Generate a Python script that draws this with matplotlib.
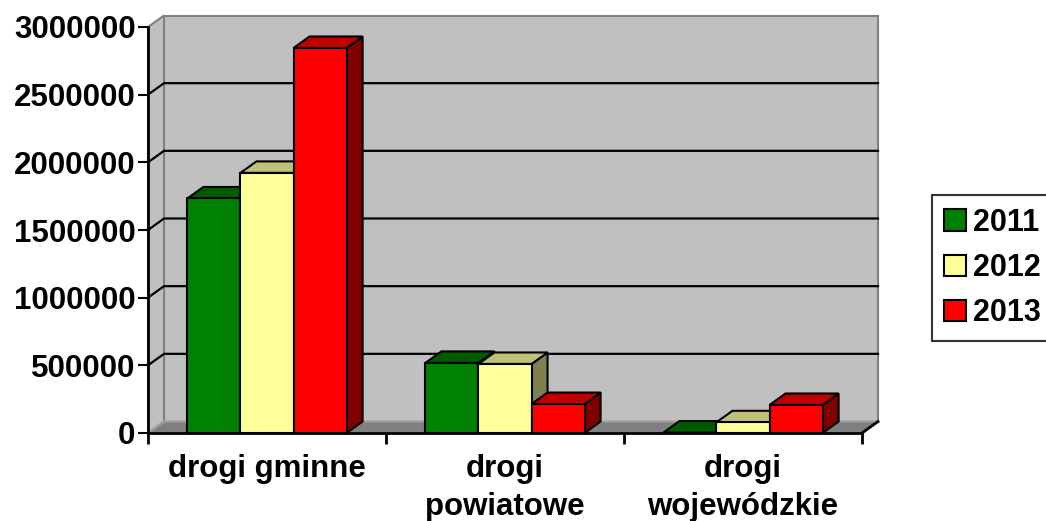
import numpy as np
import matplotlib
matplotlib.use('Agg')
import matplotlib.pyplot as plt
from matplotlib.patches import Polygon, Rectangle

plt.rcParams['font.family'] = ['Liberation Sans', 'DejaVu Sans']
plt.rcParams['font.weight'] = 'bold'

# dane
kategorie = ['drogi gminne', 'drogi\npowiatowe', 'drogi\nwojewódzkie']
lata = ['2011', '2012', '2013']
v2011 = [1733000, 518000, 3000]
v2012 = [1922000, 510000, 79000]
v2013 = [2845000, 214000, 207000]
yticks = [0, 500000, 1000000, 1500000, 2000000, 2500000, 3000000]

serie = [v2011, v2012, v2013]
kolory = [('#008000', '#005a00', '#004000'),
          ('#ffff99', '#c0c078', '#80804d'),
          ('#ff0000', '#c00000', '#800000')]

W, H = 1046, 521
fig = plt.figure(figsize=(W / 100, H / 100), dpi=100)
ax_l, ax_r, ax_b, ax_t = 148, 862, 433, 27
ax = fig.add_axes([ax_l / W, (H - ax_b) / H, (ax_r - ax_l) / W, (ax_b - ax_t) / H])
ncat = len(kategorie)
ymax = yticks[-1]
ax.set_xlim(0, ncat)
ax.set_ylim(0, ymax)
ax.set_facecolor('none')

# glebokosc 3D w pikselach -> jednostki danych
px_x = (ax_r - ax_l) / ncat
px_y = (ax_b - ax_t) / ymax
dx = 16 / px_x
dy = 11.5 / px_y

# sciany
ax.add_patch(Polygon([(dx, dy), (ncat + dx, dy), (ncat + dx, ymax + dy), (dx, ymax + dy)],
                     closed=True, fc='#c0c0c0', ec='#808080', lw=1.5, clip_on=False, zorder=0))
ax.add_patch(Polygon([(0, 0), (dx, dy), (dx, ymax + dy), (0, ymax)],
                     closed=True, fc='#c0c0c0', ec='#808080', lw=1.5, clip_on=False, zorder=0))
ax.add_patch(Polygon([(0, 0), (ncat, 0), (ncat + dx, dy), (dx, dy)],
                     closed=True, fc='#808080', ec='#a0a0a0', lw=1.5, clip_on=False, zorder=0))
ax.plot([ncat, ncat + dx], [0, dy], color='black', lw=2, clip_on=False, zorder=1)

# linie siatki
for v in yticks[1:-1]:
    ax.plot([0, dx, ncat + dx], [v, v + dy, v + dy], color='black', lw=1.6,
            clip_on=False, zorder=1)

# slupki
bw = 0.223
for i, vals in enumerate(serie):
    front, top, side = kolory[i]
    for j, h in enumerate(vals):
        x0 = j + 0.5 - 1.5 * bw + i * bw
        x1 = x0 + bw
        z = 2 + i
        ax.add_patch(Polygon([(x1, 0), (x1 + dx, dy), (x1 + dx, h + dy), (x1, h)],
                             closed=True, fc=side, ec='black', lw=1.5, clip_on=False, zorder=z))
        ax.add_patch(Polygon([(x0, h), (x1, h), (x1 + dx, h + dy), (x0 + dx, h + dy)],
                             closed=True, fc=top, ec='black', lw=1.5, clip_on=False, zorder=z))
        ax.add_patch(Rectangle((x0, 0), bw, h, fc=front, ec='black', lw=1.5,
                               clip_on=False, zorder=z))

# osie
for s in ['top', 'right']:
    ax.spines[s].set_visible(False)
for s in ['left', 'bottom']:
    ax.spines[s].set_linewidth(2)
    ax.spines[s].set_zorder(10)
ax.set_yticks(yticks)
ax.set_yticklabels([str(v) for v in yticks], fontsize=22.5, fontweight='bold')
ax.tick_params(axis='y', length=7, width=1.5, pad=2)
ax.set_xticks(range(ncat + 1))
ax.set_xticklabels([])
ax.tick_params(axis='x', which='major', length=8, width=2)
ax.set_xticks(np.arange(ncat) + 0.5, minor=True)
ax.set_xticklabels(kategorie, minor=True, fontsize=22.5, fontweight='bold', linespacing=1.35)
ax.tick_params(axis='x', which='minor', length=0, pad=15)

# legenda
uchwyty = [Rectangle((0, 0), 1, 1, fc=kolory[i][0], ec='black', lw=1.5) for i in range(3)]
leg = fig.legend(uchwyty, lata, loc='center left', bbox_to_anchor=(932 / W, (H - 268) / H),
                 prop={'size': 22, 'weight': 'bold'}, frameon=True, fancybox=False,
                 handlelength=0.7, handleheight=0.7, handletextpad=0.25,
                 labelspacing=0.5, borderpad=0.4, borderaxespad=0)
leg.get_frame().set_edgecolor('black')
leg.get_frame().set_linewidth(1.5)

fig.savefig('out.png', dpi=100, facecolor='white')
